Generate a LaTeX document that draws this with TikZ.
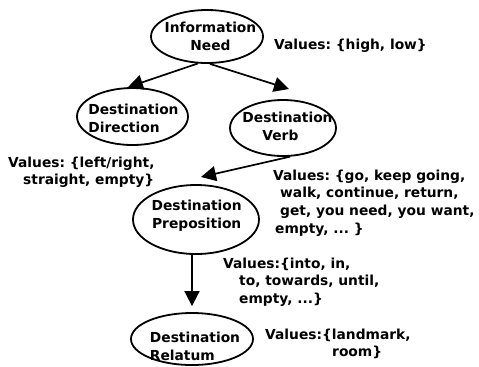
\documentclass[tikz,border=0pt]{standalone}
\usepackage{fontspec}
\setmainfont{DejaVu Sans}
\usetikzlibrary{shapes.geometric,arrows.meta}
\frenchspacing
\begin{document}
\begin{tikzpicture}[x=1bp,y=-1bp,
  ell/.style={draw,ellipse,line width=1.8bp,inner sep=0pt},
  txt/.style={font=\fontsize{13.8bp}{17.7bp}\selectfont\bfseries,inner sep=0pt},
  lbl/.style={txt,align=center},
  lbll/.style={txt,align=left},
  vals/.style={txt,align=left,anchor=north west},
  arr/.style={line width=1.7bp,-{Triangle[length=15bp,width=15bp]}}]
\useasboundingbox (0,0) rectangle (479,366);
% ellipses
\node[ell,minimum width=112bp,minimum height=53bp] (info) at (207,36.5) {};
\node[ell,minimum width=111bp,minimum height=57bp] (dir) at (132.5,116.5) {};
\node[ell,minimum width=106bp,minimum height=56bp] (verb) at (283,128) {};
\node[ell,minimum width=126bp,minimum height=69bp] (prep) at (196,219.5) {};
\node[ell,minimum width=122bp,minimum height=52bp] (rel) at (192,339) {};
% ellipse texts
\node[lbl] (infoT) at (210.5,36.5) {Information\\Need};
\node[lbll] (dirT) at (133.5,118) {Destination\\Direction};
\node[lbll] (verbT) at (287.5,126.5) {Destination\\\hspace*{20bp}Verb};
\node[lbl] (prepT) at (196.7,216) {Destination\\Preposition};
\node[lbll] (relT) at (195,346) {Destination\\Relatum};
% values
\node[vals] (vInfo) at (274,38.5) {Values: \{high, low\}};
\node[vals] (vDir) at (8,156.5) {Values: \{left/right,\\\hspace*{15bp}straight, empty\}};
\node[vals] (vVerb) at (273,169.5) {Values: \{go, keep going,\\\hspace*{7bp}walk, continue, return,\\\hspace*{7bp}get, you need, you want,\\\hspace*{2bp}empty, ... \}};
\node[vals] (vPrep) at (223,257.5) {Values:\{into, in,\\\hspace*{16bp}to, towards, until,\\\hspace*{16bp}empty, ...\}};
\node[vals] (vRel) at (265,328.5) {Values:\{landmark,\\\hspace*{67bp}room\}};
% connectors
\coordinate (verbTip) at (289,89);
\coordinate (prepTip) at (201,177);
\draw[arr] (info.251) -- (dir.99);
\draw[arr] (info.276) -- (verbTip);
\draw[arr] (verb.284) -- (prepTip);
\draw[arr,shorten >=6bp] (rel.north |- prep.south) -- (rel.north);
\end{tikzpicture}
\end{document}
